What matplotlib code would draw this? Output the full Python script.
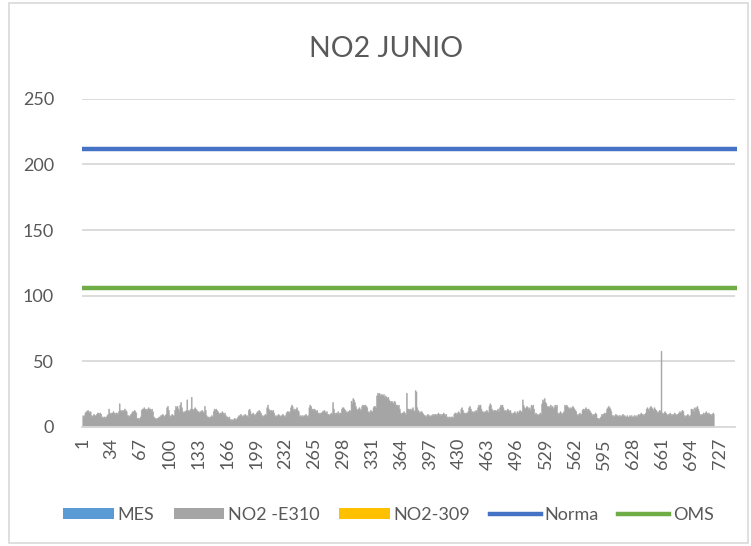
import matplotlib
matplotlib.use("Agg")
import matplotlib.pyplot as plt
from matplotlib.patches import Patch, Rectangle
from matplotlib.lines import Line2D
import numpy as np

# hourly NO2 values, station E310 (June)
no2_e310 = [
    9, 8, 9, 11, 12, 12, 13, 12, 11, 12, 9, 8, 9, 10, 9, 9, 10, 11, 11, 10, 11, 10, 8, 7,
    8, 8, 7, 8, 9, 10, 14, 11, 10, 11, 11, 12, 11, 10, 11, 11, 10, 12, 18, 13, 12, 13, 12, 13,
    14, 13, 12, 9, 9, 8, 9, 10, 11, 12, 12, 13, 12, 11, 7, 7, 6, 7, 8, 13, 14, 14, 15, 14,
    14, 13, 14, 15, 14, 14, 13, 14, 12, 8, 7, 7, 6, 7, 7, 8, 8, 9, 9, 10, 9, 8, 9, 10,
    15, 16, 13, 9, 8, 9, 10, 9, 9, 13, 16, 15, 16, 14, 12, 17, 19, 15, 12, 11, 12, 12, 13, 21,
    13, 12, 13, 14, 23, 14, 13, 14, 15, 14, 13, 12, 12, 11, 12, 12, 13, 12, 11, 16, 13, 9, 8, 8,
    7, 8, 8, 9, 8, 12, 14, 13, 14, 13, 12, 11, 10, 11, 11, 12, 11, 10, 11, 9, 8, 8, 7, 8,
    6, 6, 5, 6, 6, 7, 6, 6, 7, 8, 9, 9, 10, 9, 8, 9, 9, 10, 9, 9, 8, 13, 14, 12,
    10, 10, 11, 10, 9, 10, 11, 12, 12, 13, 12, 11, 9, 9, 8, 9, 10, 9, 15, 17, 14, 13, 12, 13,
    12, 13, 11, 9, 8, 9, 9, 10, 9, 8, 9, 9, 10, 9, 8, 9, 11, 12, 12, 11, 12, 15, 17, 16,
    13, 14, 13, 14, 15, 13, 12, 8, 9, 8, 9, 8, 9, 9, 10, 9, 8, 9, 15, 17, 16, 14, 14, 13,
    14, 13, 12, 13, 11, 11, 10, 11, 11, 12, 12, 13, 12, 11, 12, 10, 10, 9, 10, 11, 10, 19, 14, 11,
    10, 11, 11, 12, 10, 11, 11, 14, 15, 15, 14, 13, 12, 11, 12, 12, 13, 12, 20, 18, 22, 21, 19, 16,
    14, 13, 14, 15, 14, 13, 16, 17, 17, 16, 17, 16, 15, 12, 11, 12, 13, 12, 12, 15, 16, 16, 15, 24,
    26, 25, 26, 24, 25, 25, 24, 25, 23, 24, 23, 22, 23, 21, 20, 19, 20, 19, 18, 20, 19, 17, 17, 16,
    17, 14, 11, 10, 11, 11, 12, 11, 10, 26, 14, 14, 13, 14, 13, 14, 15, 13, 12, 28, 27, 15, 13, 12,
    11, 12, 12, 11, 10, 9, 9, 8, 9, 10, 9, 9, 8, 9, 9, 10, 9, 10, 10, 9, 10, 11, 10, 10,
    9, 10, 10, 11, 10, 9, 10, 8, 7, 8, 8, 7, 8, 8, 7, 10, 11, 11, 10, 11, 12, 11, 10, 14,
    15, 13, 11, 11, 10, 11, 11, 12, 15, 16, 14, 12, 12, 11, 12, 12, 13, 12, 15, 17, 16, 17, 14, 12,
    12, 11, 12, 12, 13, 12, 11, 16, 18, 17, 14, 13, 12, 13, 13, 12, 13, 14, 12, 15, 17, 16, 17, 15,
    13, 13, 12, 13, 14, 13, 12, 13, 11, 10, 11, 11, 12, 11, 10, 12, 11, 12, 13, 12, 12, 21, 17, 15,
    14, 15, 16, 15, 14, 15, 13, 17, 16, 17, 14, 10, 11, 10, 10, 9, 10, 11, 10, 18, 21, 20, 22, 19,
    18, 16, 16, 15, 16, 17, 15, 16, 14, 15, 17, 16, 17, 11, 10, 11, 12, 11, 10, 11, 12, 17, 16, 17,
    16, 15, 14, 15, 14, 15, 16, 15, 14, 13, 12, 10, 9, 10, 11, 10, 10, 13, 14, 13, 14, 15, 14, 13,
    14, 13, 12, 11, 10, 9, 10, 10, 11, 10, 7, 7, 6, 7, 8, 10, 9, 10, 11, 10, 11, 14, 15, 16,
    15, 14, 12, 9, 9, 8, 9, 10, 9, 9, 8, 9, 9, 8, 9, 10, 9, 9, 8, 8, 9, 8, 8, 9,
    8, 9, 8, 8, 9, 8, 9, 8, 9, 10, 9, 10, 11, 10, 10, 9, 10, 11, 14, 15, 14, 13, 15, 16,
    15, 14, 13, 15, 14, 13, 12, 11, 12, 13, 12, 58, 11, 10, 11, 12, 11, 10, 9, 10, 10, 11, 10, 9,
    10, 10, 11, 10, 9, 10, 10, 11, 12, 11, 12, 13, 12, 9, 8, 9, 9, 10, 9, 8, 9, 14, 13, 14,
    12, 15, 14, 15, 16, 14, 12, 10, 9, 10, 10, 11, 10, 11, 12, 11, 10, 11, 10, 10, 9, 10, 11, 10,
]
norma = 212
oms = 106
n_categories = 744          # 31 days x 24 h on the category axis
tick_every = 33

series_names = ["MES", "NO2 -E310", "NO2-309", "Norma", "OMS"]
c_mes, c_e310, c_309, c_norma, c_oms = "#5B9BD5", "#A5A5A5", "#FFC000", "#4472C4", "#70AD47"
txt = "#595959"
grid = "#D9D9D9"

plt.rcParams["font.family"] = ["Lato", "DejaVu Sans"]

fig = plt.figure(figsize=(7.51, 5.46), dpi=100)
ax = fig.add_axes([0.109, 0.218, 0.870, 0.601])

# columns with no gap: drawn as one stepped area so thin spikes survive pixel snapping
x = np.arange(len(no2_e310))
ax.fill_between(x, no2_e310, step="mid", color=c_e310, linewidth=0.4, edgecolor=c_e310, zorder=2)
xs = np.array([-0.5, n_categories + 2])
ax.plot(xs, [norma, norma], color=c_norma, lw=3.2, solid_capstyle="butt", zorder=3, clip_on=False)
ax.plot(xs, [oms, oms], color=c_oms, lw=3.2, solid_capstyle="butt", zorder=3, clip_on=False)

ax.set_xlim(-0.5, n_categories - 0.5)
ax.set_ylim(0, 250)
ax.set_yticks(range(0, 251, 50))
ticks = list(range(0, n_categories - 10, tick_every))
ax.set_xticks(ticks)
ax.set_xticklabels([str(t + 1) for t in ticks], rotation=90)
ax.tick_params(axis="both", length=0, labelsize=13, colors=txt)
ax.tick_params(axis="y", pad=20)
ax.tick_params(axis="x", pad=8)
ax.grid(axis="y", color=grid, lw=1.3, zorder=0)
for s in ["top", "right", "left"]:
    ax.spines[s].set_visible(False)
ax.spines["bottom"].set_color(grid)
ax.spines["bottom"].set_linewidth(1.3)

fig.text(0.514, 0.91, "NO2 JUNIO", ha="center", va="center", fontsize=20.5, color=txt)

handles = [
    Patch(facecolor=c_mes, edgecolor="none"),
    Patch(facecolor=c_e310, edgecolor="none"),
    Patch(facecolor=c_309, edgecolor="none"),
    Line2D([], [], color=c_norma, lw=3.2),
    Line2D([], [], color=c_oms, lw=3.2),
]
fig.legend(handles, series_names, loc="center", bbox_to_anchor=(0.517, 0.057), ncol=5,
           frameon=False, fontsize=13, labelcolor=txt, handlelength=2.8, handleheight=0.6,
           handletextpad=0.2, columnspacing=1.1)

fig.patches.append(Rectangle((9 / 751, 3 / 546), 739 / 751, 540 / 546, transform=fig.transFigure,
                             fill=False, edgecolor=grid, lw=1.2))

fig.savefig("out.png", dpi=100)
